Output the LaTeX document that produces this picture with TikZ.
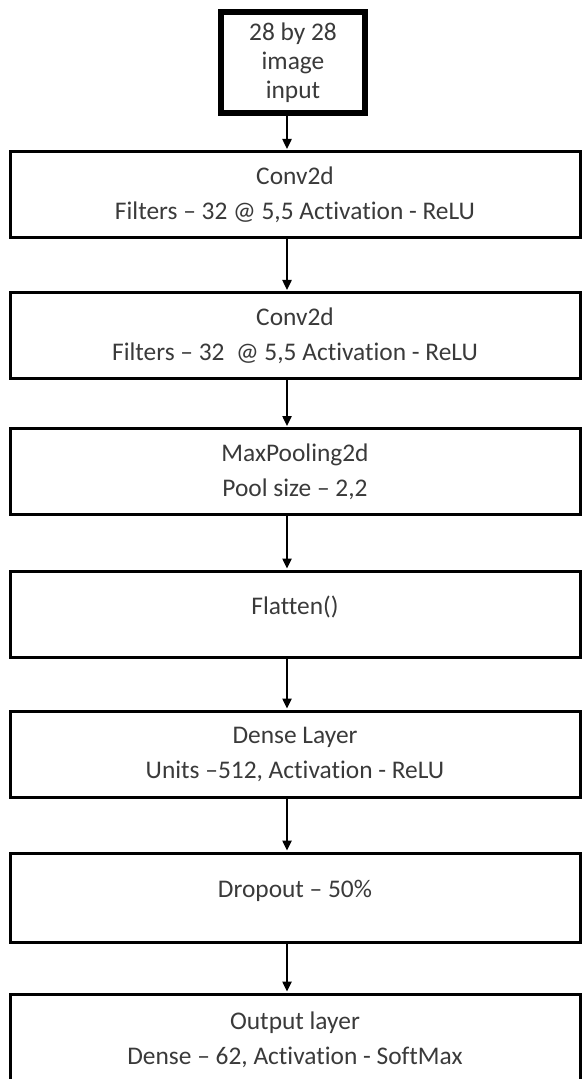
\documentclass[tikz,border=0pt]{standalone}
\usepackage{fontspec}
\setmainfont[Ligatures={NoCommon}]{Carlito}
\usetikzlibrary{arrows.meta}
\definecolor{cnnink} {HTML}{000000}
\definecolor{cnntext}{HTML}{3A3A3A}

\begin{document}
\begin{tikzpicture}[
  x=0.5pt, y=-0.5pt,
  layer/.style={draw=cnnink, line width=1.5pt, fill=white, text=cnntext,
                minimum width=285pt, minimum height=#1, inner sep=0pt,
                align=center, font=\fontsize{12.7}{14.5}\selectfont},
  layer/.default=43pt,
  oneline/.style={text depth=9pt},
  flow/.style={draw=cnnink, line width=0.9pt,
               -{Triangle[length=5pt,width=4.6pt]}, shorten >=0.5pt},
]
  \useasboundingbox (0,0) rectangle (582,1079);
  \coordinate (spine) at (287,0);

  % Input block: heavier frame than the layers below.
  \node[layer=50.5pt, minimum width=72pt, line width=2.6pt] (input) at (293,62.5)
    {28 by 28\\image\\input};

  % Layer stack, one box per layer.
  \node[layer] (convA)   at (295,194.5) {Conv2d\\[3pt]Filters – 32 @ 5,5 Activation - ReLU};
  \node[layer] (convB)   at (295,335.5) {Conv2d\\[3pt]Filters – 32\ \ @ 5,5 Activation - ReLU};
  \node[layer] (pool)    at (295,471.5) {MaxPooling2d\\[3pt]Pool size – 2,2};
  \node[layer, oneline] (flatten) at (295,614) {Flatten()};
  \node[layer] (dense)   at (295,754)   {Dense Layer\\[3pt]Units –512, Activation - ReLU};
  \node[layer=44.5pt, oneline] (dropout) at (295,897.5) {Dropout – 50\%};
  % Last box runs off the bottom edge.
  \node[layer=46pt] (output) at (295,1040) {Output layer\\[3pt]Dense – 62, Activation - SoftMax};

  % Connectors all sit on one vertical line, a little left of centre.
  \foreach \from/\to in {input/convA, convA/convB, convB/pool, pool/flatten,
                         flatten/dense, dense/dropout, dropout/output}
    { \draw[flow] (\from.south -| spine) -- (\to.north -| spine); }
\end{tikzpicture}
\end{document}
